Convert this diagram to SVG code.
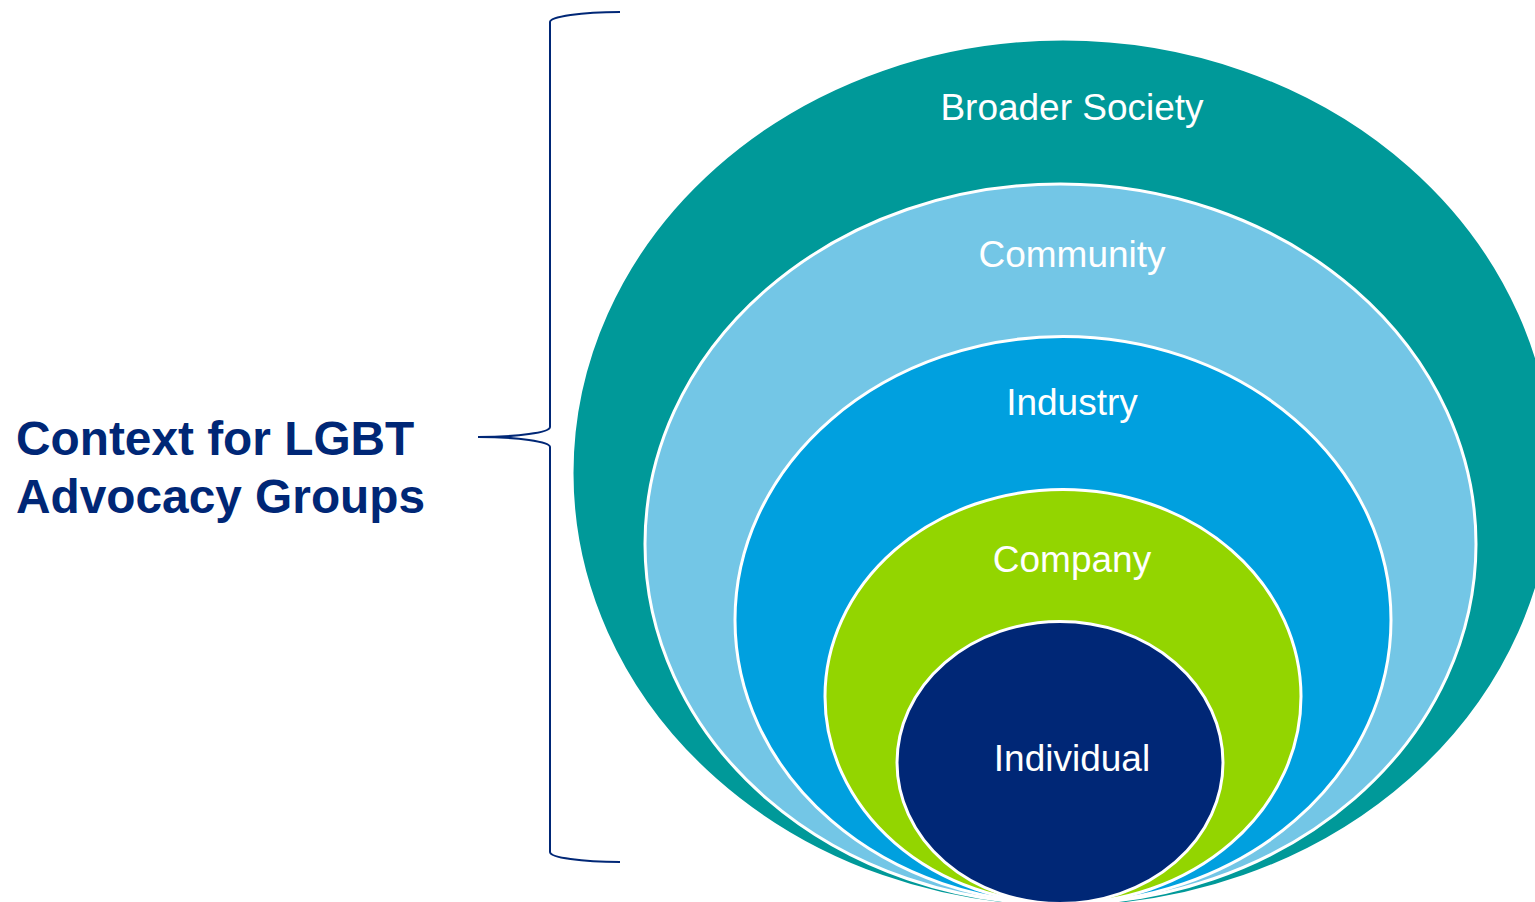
<svg xmlns="http://www.w3.org/2000/svg" width="1535" height="902" viewBox="0 0 1535 902">
  <style>
    .ring { stroke: #ffffff; stroke-width: 3; }
    .label { font-family: "Liberation Sans", Arial, sans-serif; font-size: 37px; fill: #ffffff; text-anchor: middle; }
    .title { font-family: "Liberation Sans", Arial, sans-serif; font-size: 47.8px; font-weight: bold; fill: #002776; }
    .brace { fill: none; stroke: #002776; stroke-width: 2; }
  </style>
  <rect width="1535" height="902" fill="#ffffff"/>

  <!-- title on the left -->
  <g id="title">
    <text class="title" x="16" y="455">Context for LGBT</text>
    <text class="title" x="16" y="513">Advocacy Groups</text>
  </g>

  <!-- curly brace spanning the nested levels -->
  <g id="connectors">
    <path class="brace" d="M620,12 A70,10 0 0 0 550,22 L550,427 A72,10 0 0 1 478,437 A72,10 0 0 1 550,447 L550,852 A70,10 0 0 0 620,862"/>
  </g>

  <!-- nested levels, outermost first -->
  <g id="broader-society">
    <ellipse class="ring" cx="1063" cy="473" rx="491" ry="434" fill="#009999" stroke="none"/>
    <text class="label" x="1072" y="120">Broader Society</text>
  </g>
  <g id="community">
    <ellipse class="ring" cx="1060.5" cy="544" rx="415.5" ry="360" fill="#73C6E6"/>
    <text class="label" x="1072" y="267">Community</text>
  </g>
  <g id="industry">
    <ellipse class="ring" cx="1063" cy="620" rx="328" ry="283.5" fill="#00A0DF"/>
    <text class="label" x="1072" y="415">Industry</text>
  </g>
  <g id="company">
    <ellipse class="ring" cx="1063" cy="696.5" rx="238" ry="207" fill="#93D500"/>
    <text class="label" x="1072" y="572">Company</text>
  </g>
  <g id="individual">
    <ellipse class="ring" cx="1060" cy="762.5" rx="163" ry="141" fill="#002776"/>
    <text class="label" x="1072" y="771">Individual</text>
  </g>
</svg>
